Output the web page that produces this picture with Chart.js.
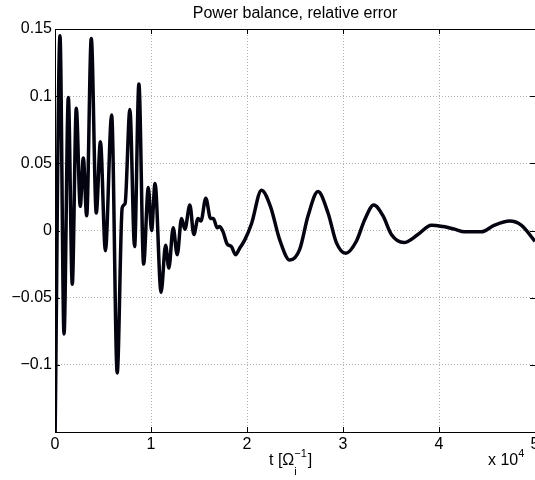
<!DOCTYPE html>
<html>
<head>
<title>Power balance, relative error</title>
<style>
    html, body { margin: 0; padding: 0; background: #ffffff; overflow: hidden; }
    #wrap { width: 535px; height: 480px; }
</style>
</head>
<body>
<div id="wrap"><canvas id="balance-chart" width="535" height="480"></canvas></div>

<script src="https://cdn.jsdelivr.net/npm/chart.js"></script>
<script>
    // time in units of 1e4 / Omega_i
    const timeValues = [
        0.000, 0.052, 0.094, 0.139, 0.180, 0.222, 0.263, 0.295, 0.330, 0.378,
        0.430, 0.473, 0.525, 0.590, 0.648, 0.700, 0.730, 0.780, 0.829, 0.874,
        0.923, 0.972, 1.006, 1.042, 1.105, 1.152, 1.186, 1.231, 1.273, 1.318,
        1.353, 1.405, 1.446, 1.490, 1.520, 1.571, 1.620, 1.650, 1.689, 1.715,
        1.751, 1.793, 1.838, 1.880, 1.925, 1.977, 2.047, 2.151, 2.244, 2.341,
        2.445, 2.549, 2.636, 2.740, 2.844, 2.931, 3.028, 3.139, 3.226, 3.320,
        3.416, 3.504, 3.635, 3.780, 3.920, 4.040, 4.162, 4.266, 4.440, 4.578,
        4.735, 4.856, 5.000
    ];
    const errorValues = [
        -0.160, 0.145, -0.077, 0.099, -0.040, 0.091, 0.018, 0.054, 0.011, 0.143,
        0.013, 0.066, -0.015, 0.086, -0.106, 0.017, 0.020, 0.090, -0.012, 0.109,
        -0.025, 0.032, 0.000, 0.035, -0.046, -0.011, -0.028, 0.002, -0.018, 0.009,
        0.001, 0.019, -0.003, 0.009, 0.007, 0.024, 0.009, 0.009, 0.002, 0.003,
        -0.001, -0.010, -0.012, -0.018, -0.013, -0.007, 0.005, 0.030, 0.018, -0.007,
        -0.022, -0.014, 0.011, 0.029, 0.013, -0.009, -0.017, -0.008, 0.008, 0.019,
        0.011, -0.003, -0.009, -0.003, 0.004, 0.003, 0.001, -0.001, -0.001, 0.004,
        0.007, 0.004, -0.008
    ];

    const xTickValues = [0, 1, 2, 3, 4, 5];
    const xTickLabels = ['0', '1', '2', '3', '4', '5'];
    const yTickValues = [-0.15, -0.1, -0.05, 0, 0.05, 0.1, 0.15];
    const yTickLabels = ['', '\u22120.1', '\u22120.05', '0', '0.05', '0.1', '0.15'];

    const FONT = '"Liberation Sans", Arial, Helvetica, sans-serif';

    // title, axis label, frame and inward tick marks (matlab style)
    const decorations = {
        id: 'decorations',
        afterDraw(chart) {
            const ctx = chart.ctx;
            const area = chart.chartArea;
            const xs = chart.scales.x, ys = chart.scales.y;
            ctx.save();

            // frame
            ctx.strokeStyle = '#000';
            ctx.lineWidth = 1;
            ctx.beginPath();
            ctx.moveTo(area.left + 0.5, area.bottom + 0.5);
            ctx.lineTo(area.left + 0.5, area.top + 0.5);
            ctx.lineTo(area.right, area.top + 0.5);
            ctx.moveTo(area.left, area.bottom + 0.5);
            ctx.lineTo(area.right, area.bottom + 0.5);
            ctx.stroke();

            // inward ticks
            ctx.beginPath();
            xTickValues.forEach(v => {
                const px = Math.round(xs.getPixelForValue(v)) + 0.5;
                ctx.moveTo(px, area.bottom);
                ctx.lineTo(px, area.bottom - 5);
                ctx.moveTo(px, area.top);
                ctx.lineTo(px, area.top + 5);
            });
            yTickValues.forEach(v => {
                const py = Math.round(ys.getPixelForValue(v)) + 0.5;
                ctx.moveTo(area.left, py);
                ctx.lineTo(area.left + 5, py);
                ctx.moveTo(area.right, py);
                ctx.lineTo(area.right - 5, py);
            });
            ctx.stroke();

            // title
            ctx.fillStyle = '#000';
            ctx.textBaseline = 'alphabetic';
            ctx.textAlign = 'center';
            ctx.font = '16px ' + FONT;
            ctx.fillText('Power balance, relative error', (area.left + area.right) / 2, 17.5);

            // x label: t [Omega_i^-1]
            ctx.textAlign = 'left';
            let x = 269;
            const base = 465;
            ctx.font = '16px ' + FONT;
            ctx.fillText('t [\u03A9', x, base);
            x += ctx.measureText('t [\u03A9').width;
            ctx.font = '11px ' + FONT;
            ctx.fillText('i', x, base + 10);
            ctx.fillText('\u22121', x, base - 8);
            x += ctx.measureText('\u22121').width + 1;
            ctx.font = '16px ' + FONT;
            ctx.fillText(']', x, base);

            // exponent
            ctx.fillText('x 10', 488, base);
            const w = ctx.measureText('x 10').width;
            ctx.font = '11px ' + FONT;
            ctx.fillText('4', 488 + w, base - 8);

            ctx.restore();
        }
    };

    const ctx = document.getElementById('balance-chart').getContext('2d');
    new Chart(ctx, {
        type: 'line',
        data: {
            datasets: [{
                data: timeValues.map((t, i) => ({ x: t, y: errorValues[i] })),
                borderColor: '#040410',
                borderWidth: 3.5,
                pointRadius: 0,
                cubicInterpolationMode: 'monotone',
                fill: false
            }]
        },
        options: {
            responsive: false,
            animation: false,
            layout: { padding: { top: 29, left: 0, right: 0, bottom: 0 } },
            plugins: {
                legend: { display: false },
                tooltip: { enabled: false }
            },
            scales: {
                x: {
                    type: 'linear',
                    min: 0,
                    max: 5,
                    afterBuildTicks: s => { s.ticks = xTickValues.map(v => ({ value: v })); },
                    afterFit: s => { s.height = 48; s.paddingLeft = 0; s.paddingRight = 0; },
                    ticks: {
                        color: '#000',
                        padding: 3,
                        maxRotation: 0,
                        font: { family: FONT, size: 16 },
                        callback: (v, i) => xTickLabels[i]
                    },
                    grid: { color: 'rgba(0,0,0,0.3)', lineWidth: 1, drawTicks: false },
                    border: { display: false, dash: [1, 2] }
                },
                y: {
                    min: -0.15,
                    max: 0.15,
                    afterBuildTicks: s => { s.ticks = yTickValues.map(v => ({ value: v })); },
                    afterFit: s => { s.width = 55; s.paddingTop = 0; s.paddingBottom = 0; },
                    ticks: {
                        color: '#000',
                        padding: 3,
                        font: { family: FONT, size: 16 },
                        callback: (v, i) => yTickLabels[i]
                    },
                    grid: { color: 'rgba(0,0,0,0.3)', lineWidth: 1, drawTicks: false },
                    border: { display: false, dash: [1, 2] }
                }
            }
        },
        plugins: [decorations]
    });
</script>
</body>
</html>
